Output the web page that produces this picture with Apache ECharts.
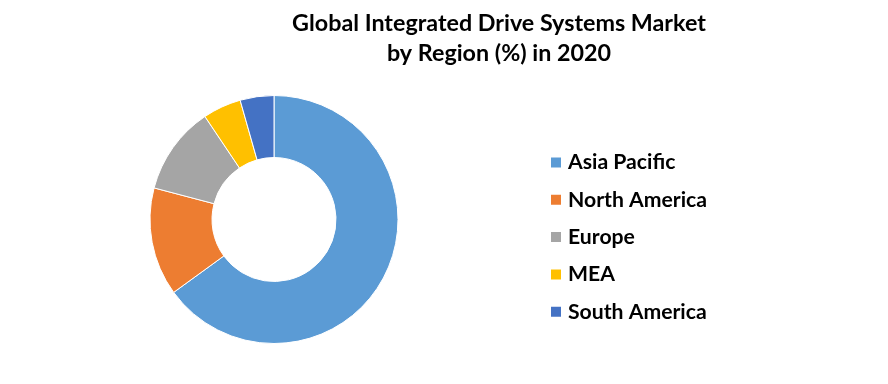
<!DOCTYPE html>
<html><head><meta charset="utf-8">
<script src="https://cdn.jsdelivr.net/npm/echarts@6/dist/echarts.min.js"></script>
<style>html,body{margin:0;padding:0;background:#fff}#c{width:888px;height:384px}</style>
</head><body><div id="c"></div>
<script>
const categories = ['Asia Pacific', 'North America', 'Europe', 'MEA', 'South America'];
const values = [65.0, 14.1, 11.5, 5.0, 4.4];
const colors = ['#5B9BD5', '#ED7D31', '#A5A5A5', '#FFC000', '#4472C4'];
const titleText = 'Global Integrated Drive Systems Market\nby Region (%) in 2020';

const chart = echarts.init(document.getElementById('c'), null, {renderer: 'canvas'});
chart.setOption({
  animation: false,
  color: colors,
  title: {
    text: titleText,
    left: 499, top: 8, textAlign: 'center', padding: 0,
    textStyle: {fontFamily: 'Lato', fontWeight: 'bold', fontSize: 23.3, lineHeight: 30, color: '#000'}
  },
  legend: {
    orient: 'vertical', left: 549, top: 152, padding: 0,
    itemWidth: 12, itemHeight: 12, itemGap: 16.3, icon: 'rect',
    textStyle: {fontFamily: 'Lato', fontWeight: 'bold', fontSize: 21.2, color: '#000', padding: [0,0,0,1]},
    data: categories
  },
  series: [{
    type: 'pie',
    center: [274, 219.5], radius: [62, 124],
    startAngle: 90, clockwise: true,
    label: {show: false}, labelLine: {show: false},
    itemStyle: {borderColor: '#fff', borderWidth: 1},
    emphasis: {disabled: true},
    data: categories.map((n, i) => ({name: n, value: values[i]}))
  }]
});
</script></body></html>
